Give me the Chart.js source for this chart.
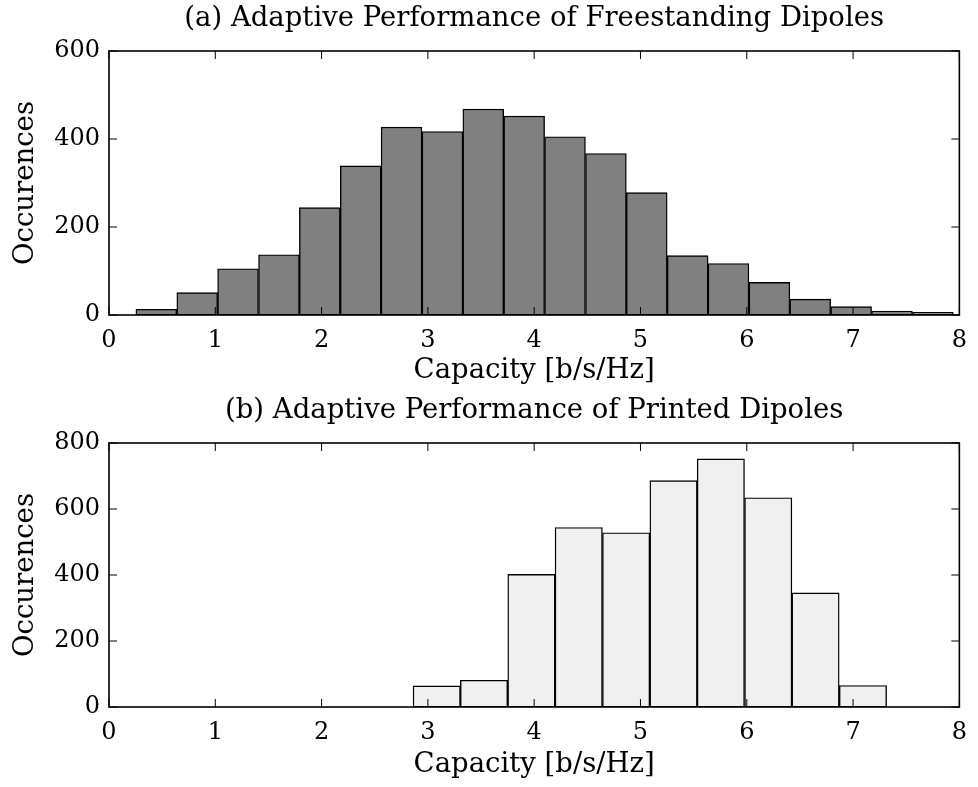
<!DOCTYPE html>
<html>
<head>
<meta charset="utf-8">
<script src="https://cdn.jsdelivr.net/npm/chart.js@4/dist/chart.umd.min.js"></script>
<style>
  html, body { margin: 0; padding: 0; background: #fff; }
  #wrap { position: relative; width: 978px; height: 787px; }
  canvas { position: absolute; left: 0; }
  #topChart { top: 0; }
  #bottomChart { top: 392px; }
</style>
</head>
<body>
<div id="wrap">
  <canvas id="topChart" width="978" height="392"></canvas>
  <canvas id="bottomChart" width="978" height="395"></canvas>
</div>
<script>
// (a) freestanding dipoles: histogram bin centres [b/s/Hz] and counts
const freeBinCenters = [0.445, 0.830, 1.214, 1.599, 1.983, 2.368, 2.752, 3.137, 3.521, 3.906,
                        4.290, 4.675, 5.059, 5.444, 5.828, 6.213, 6.597, 6.982, 7.366, 7.751];
const freeCounts = [13, 51, 105, 137, 244, 339, 427, 417, 468, 452,
                    405, 367, 278, 135, 117, 74, 36, 19, 9, 6];

// (b) printed dipoles
const printedBinCenters = [3.083, 3.528, 3.974, 4.419, 4.865, 5.311, 5.756, 6.202, 6.647, 7.093];
const printedCounts = [64, 81, 402, 544, 528, 686, 752, 634, 346, 65];

const titles = [
  '(a) Adaptive Performance of Freestanding Dipoles',
  '(b) Adaptive Performance of Printed Dipoles'
];
const xLabel = 'Capacity [b/s/Hz]';
const yLabel = 'Occurences';

const FONT = "'DejaVu Serif', 'Liberation Serif', serif";
const TICK_FS = 24;   // digits
const TEXT_FS = 27.5; // titles and axis labels

// matlab style box with inward ticks on all four sides
const frameTicks = {
  id: 'frameTicks',
  afterDraw(chart) {
    const {ctx, chartArea: a, scales: {x, y}} = chart;
    const len = 8;
    ctx.save();
    ctx.strokeStyle = '#000';
    ctx.lineWidth = 1;
    ctx.beginPath();
    x.ticks.forEach(t => {
      const px = x.getPixelForValue(t.value);
      ctx.moveTo(px, a.bottom); ctx.lineTo(px, a.bottom - len);
      ctx.moveTo(px, a.top); ctx.lineTo(px, a.top + len);
    });
    y.ticks.forEach(t => {
      const py = y.getPixelForValue(t.value);
      ctx.moveTo(a.left, py); ctx.lineTo(a.left + len, py);
      ctx.moveTo(a.right, py); ctx.lineTo(a.right - len, py);
    });
    ctx.stroke();
    ctx.lineWidth = 1.6;
    ctx.strokeRect(a.left, a.top, a.right - a.left, a.bottom - a.top);
    ctx.restore();
  }
};

function makeChart(id, title, centers, counts, fill, yMax, canvasH, xTitlePad) {
  const data = centers.map((c, i) => ({x: c, y: counts[i]}));
  return new Chart(document.getElementById(id), {
    type: 'bar',
    data: {
      datasets: [{
        data: data,
        backgroundColor: fill,
        borderColor: '#000',
        borderWidth: 1.4,
        borderSkipped: false,
        barPercentage: 1,
        categoryPercentage: 1
      }]
    },
    options: {
      responsive: false,
      animation: false,
      layout: { padding: { left: 0, right: 15, top: 0, bottom: 0 } },
      plugins: {
        legend: { display: false },
        tooltip: { enabled: false },
        title: {
          display: true,
          fullSize: false,
          text: title,
          color: '#000',
          font: { family: FONT, size: TEXT_FS, weight: 'normal' },
          padding: { top: 2.5, bottom: 15.5 }
        }
      },
      scales: {
        x: {
          type: 'linear',
          min: 0, max: 8,
          offset: false,
          grid: { display: false, drawTicks: false, offset: false },
          border: { display: false },
          ticks: { stepSize: 1, color: '#000', padding: 11, font: { family: FONT, size: TICK_FS }, maxRotation: 0 },
          title: { display: true, text: xLabel, color: '#000', font: { family: FONT, size: TEXT_FS }, padding: { top: 0, bottom: xTitlePad } },
          afterFit: s => { s.height = canvasH - 315; }
        },
        y: {
          min: 0, max: yMax,
          grid: { display: false, drawTicks: false },
          border: { display: false },
          ticks: { stepSize: 200, color: '#000', padding: 9, font: { family: FONT, size: TICK_FS } },
          title: { display: true, text: yLabel, color: '#000', font: { family: FONT, size: TEXT_FS }, padding: { top: 9.5, bottom: 0 } },
          afterFit: s => { s.width = 109; }
        }
      }
    },
    plugins: [frameTicks]
  });
}

makeChart('topChart', titles[0], freeBinCenters, freeCounts, '#808080', 600, 392, 4.5);
makeChart('bottomChart', titles[1], printedBinCenters, printedCounts, '#f0f0f0', 800, 395, 5.5);
</script>
</body>
</html>
